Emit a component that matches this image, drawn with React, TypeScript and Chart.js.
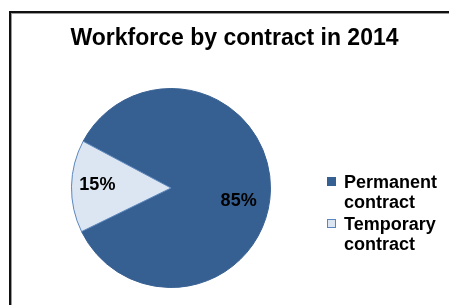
import React, { useEffect, useRef } from "react";
import { Chart, registerables } from "chart.js";

Chart.register(...registerables);

const title = "Workforce by contract in 2014";
const categories = ["Permanent contract", "Temporary contract"];
const values = [85, 15];
const sliceColors = ["#376092", "#DCE6F2"];
const sliceBorders = ["#376092", "#5A86BE"];

const FONT = "'Liberation Sans', Arial, sans-serif";

const decorPlugin = {
  id: "decor",
  beforeDraw(chart: any) {
    const ctx = chart.ctx;
    ctx.save();
    // frame
    ctx.fillStyle = "#111111";
    ctx.fillRect(9, 11, 2, chart.height - 11);
    ctx.fillRect(9, 11, chart.width - 9, 2);
    ctx.fillStyle = "#9a9a9a";
    ctx.fillRect(11, 13, 1, chart.height - 13);
    ctx.fillRect(11, 13, chart.width - 11, 1);
    // title
    ctx.fillStyle = "#000000";
    ctx.font = `bold 23px ${FONT}`;
    ctx.textAlign = "center";
    ctx.textBaseline = "alphabetic";
    ctx.fillText(title, 234.5, 45);
    ctx.restore();
  },
  afterDatasetsDraw(chart: any) {
    const ctx = chart.ctx;
    const meta = chart.getDatasetMeta(0);
    const total = values.reduce((a, b) => a + b, 0);
    const offsets = [
      [-4, 12],
      [-2, -2],
    ];
    ctx.save();
    ctx.fillStyle = "#000000";
    ctx.font = `bold 18px ${FONT}`;
    ctx.textAlign = "center";
    ctx.textBaseline = "middle";
    meta.data.forEach((arc: any, i: number) => {
      const p = arc.getProps(["x", "y", "startAngle", "endAngle", "outerRadius"], true);
      const mid = (p.startAngle + p.endAngle) / 2;
      const r = p.outerRadius * 0.72;
      const x = p.x + Math.cos(mid) * r + offsets[i][0];
      const y = p.y + Math.sin(mid) * r + offsets[i][1];
      const pct = Math.round((values[i] / total) * 100);
      ctx.fillText(pct + "%", x, y);
    });
    // legend
    ctx.font = `bold 18px ${FONT}`;
    ctx.textAlign = "left";
    ctx.textBaseline = "alphabetic";
    const baseY = [188, 230];
    categories.forEach((cat, i) => {
      const by = baseY[i];
      ctx.fillStyle = sliceColors[i];
      ctx.fillRect(327, by - 11, 9, 9);
      ctx.strokeStyle = sliceBorders[i];
      ctx.lineWidth = 1;
      ctx.strokeRect(327.5, by - 10.5, 8, 8);
      ctx.fillStyle = "#000000";
      const words = cat.split(" ");
      words.forEach((w, j) => {
        ctx.fillText(w, 344, by + j * 19.5);
      });
    });
    ctx.restore();
  },
};

export default function App() {
  const ref = useRef<HTMLCanvasElement | null>(null);
  useEffect(() => {
    if (!ref.current) return;
    const chart = new Chart(ref.current, {
      type: "pie",
      data: {
        labels: categories,
        datasets: [
          {
            data: values,
            backgroundColor: sliceColors,
            borderColor: sliceBorders,
            borderWidth: 1,
          },
        ],
      },
      options: {
        responsive: false,
        animation: false,
        rotation: -62,
        layout: { padding: { left: 71, right: 178, top: 88, bottom: 17 } },
        plugins: {
          legend: { display: false },
          title: { display: false },
          tooltip: { enabled: false },
        },
      },
      plugins: [decorPlugin],
    });
    return () => chart.destroy();
  }, []);
  return (
    <div style={{ position: "relative", width: 449, height: 305, background: "#ffffff" }}>
      <style>{"body{margin:0;background:#fff}"}</style>
      <canvas ref={ref} width={449} height={305} style={{ display: "block" }} />
    </div>
  );
}
